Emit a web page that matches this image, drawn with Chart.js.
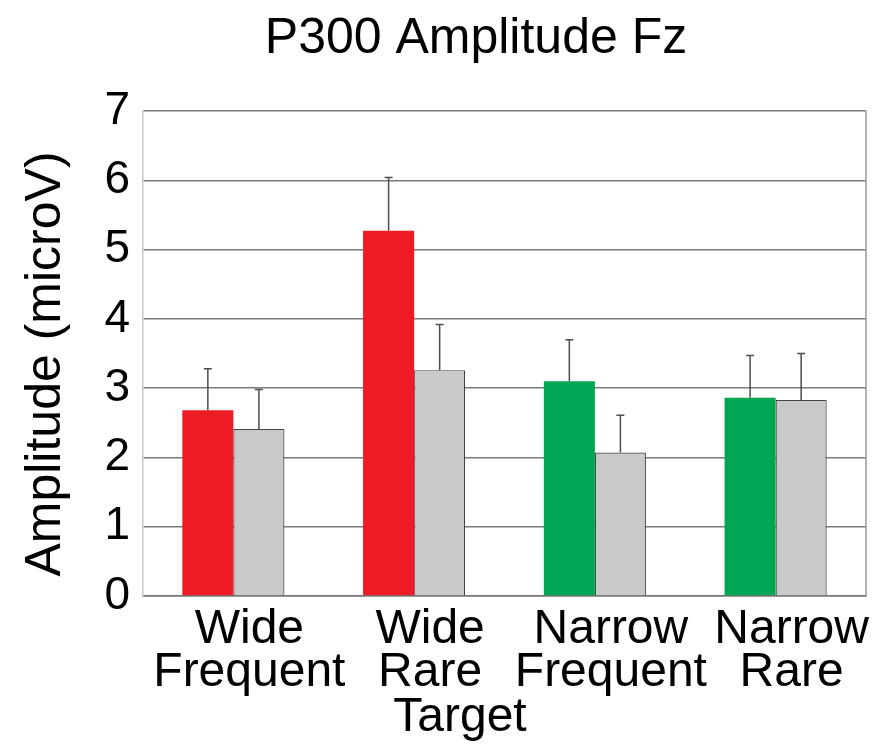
<!DOCTYPE html>
<html>
<head>
<meta charset="utf-8">
<script src="https://cdn.jsdelivr.net/npm/chart.js@4.4.1/dist/chart.umd.min.js"></script>
<style>
  html, body { margin: 0; padding: 0; background: #fff; }
  #wrap { width: 883px; height: 749px; }
</style>
</head>
<body>
<div id="wrap"><canvas id="p300Chart"></canvas></div>
<script>
const categories = [['Wide', 'Frequent'], ['Wide', 'Rare'], ['Narrow', 'Frequent'], ['Narrow', 'Rare']];
const targetValues = [2.68, 5.27, 3.10, 2.86];
const targetErrors = [0.60, 0.77, 0.60, 0.61];
const otherValues = [2.41, 3.26, 2.07, 2.83];
const otherErrors = [0.57, 0.66, 0.54, 0.67];
const targetColors = ['#ed1c24', '#ed1c24', '#00a651', '#00a651'];
const yTicks = [0, 1, 2, 3, 4, 5, 6, 7];

const FONT = "'Liberation Sans', Arial, Helvetica, sans-serif";

// upward-only error bars with a small cap
const errorBars = {
    id: 'errorBars',
    afterDatasetsDraw(chart) {
        const ctx = chart.ctx;
        const y = chart.scales.y;
        ctx.save();
        ctx.strokeStyle = '#4d4d4d';
        ctx.lineWidth = 1.5;
        chart.data.datasets.forEach((ds, i) => {
            const meta = chart.getDatasetMeta(i);
            meta.data.forEach((bar, j) => {
                const top = y.getPixelForValue(ds.data[j] + ds.errors[j]);
                ctx.beginPath();
                ctx.moveTo(bar.x, bar.y);
                ctx.lineTo(bar.x, top);
                ctx.moveTo(bar.x - 4, top);
                ctx.lineTo(bar.x + 4, top);
                ctx.stroke();
            });
        });
        ctx.restore();
    }
};

// right frame line, title and axis titles (they sit a bit off centre in the original)
const frame = {
    id: 'frame',
    afterDraw(chart) {
        const ctx = chart.ctx;
        const a = chart.chartArea;
        ctx.save();
        ctx.strokeStyle = '#999';
        ctx.lineWidth = 1.5;
        ctx.beginPath();
        ctx.moveTo(a.right, a.top);
        ctx.lineTo(a.right, a.bottom);
        ctx.stroke();

        ctx.fillStyle = '#000';
        ctx.textAlign = 'center';
        ctx.textBaseline = 'middle';
        ctx.font = '50px ' + FONT;
        ctx.fillText('P300 Amplitude Fz', 476, 39);
        ctx.font = '48px ' + FONT;
        ctx.fillText('Target', 460, 718);
        ctx.font = '50px ' + FONT;
        ctx.translate(46, 364);
        ctx.rotate(-Math.PI / 2);
        ctx.fillText('Amplitude (microV)', 0, 0);
        ctx.restore();
    }
};

new Chart(document.getElementById('p300Chart'), {
    type: 'bar',
    data: {
        labels: categories,
        datasets: [{
            label: 'Target',
            data: targetValues,
            errors: targetErrors,
            backgroundColor: targetColors,
            borderWidth: 0
        }, {
            label: 'Standard',
            data: otherValues,
            errors: otherErrors,
            backgroundColor: '#c8c9cb',
            borderColor: '#444',
            borderWidth: 1.2
        }]
    },
    options: {
        responsive: true,
        maintainAspectRatio: false,
        animation: false,
        categoryPercentage: 0.565,
        barPercentage: 1,
        layout: { padding: { top: 111, right: 17, left: 0, bottom: 0 } },
        plugins: {
            legend: { display: false },
            tooltip: { enabled: false }
        },
        scales: {
            x: {
                grid: { display: false, drawTicks: false },
                border: { color: '#777', width: 1.5 },
                ticks: {
                    color: '#000',
                    font: { family: FONT, size: 48, lineHeight: 0.9 },
                    padding: 12,
                    labelOffset: 16,
                    maxRotation: 0,
                    autoSkip: false
                },
                afterFit(scale) { scale.height = 153; }
            },
            y: {
                min: 0,
                max: 7,
                afterBuildTicks(scale) { scale.ticks = yTicks.map(v => ({ value: v })); },
                grid: { color: '#7a7a7a', lineWidth: 1.5, drawTicks: false },
                border: { color: '#c8c8c8', width: 1.5 },
                ticks: {
                    color: '#000',
                    font: { family: FONT, size: 46 },
                    padding: 13
                },
                afterFit(scale) { scale.width = 143; }
            }
        }
    },
    plugins: [errorBars, frame]
});
</script>
</body>
</html>
